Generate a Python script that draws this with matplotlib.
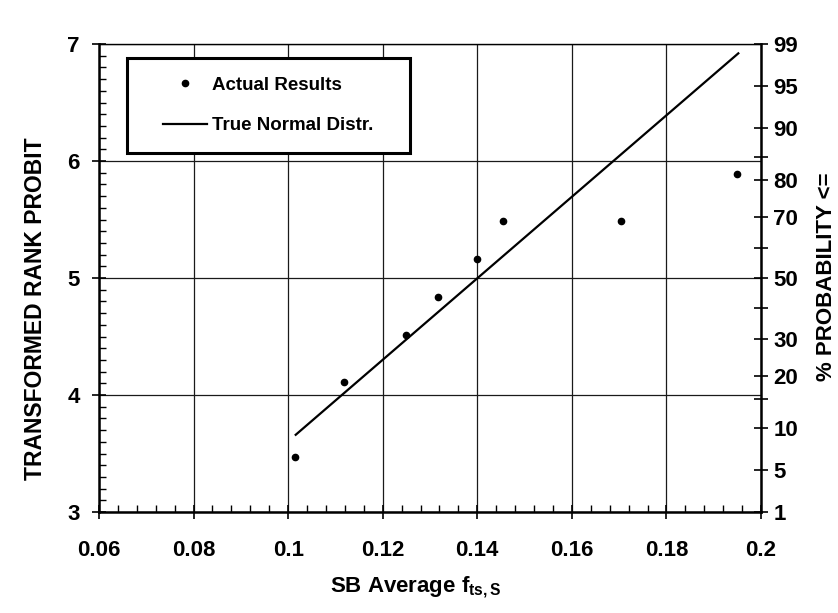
import matplotlib
matplotlib.use("Agg")
import matplotlib.pyplot as plt
from matplotlib.patches import Rectangle
from matplotlib.ticker import MultipleLocator, FuncFormatter
from statistics import NormalDist

plt.rcParams['font.family'] = ['Liberation Sans', 'DejaVu Sans']
plt.rcParams['font.weight'] = 'bold'
plt.rcParams['mathtext.fontset'] = 'custom'
plt.rcParams['mathtext.rm'] = 'Liberation Sans:bold'
plt.rcParams['mathtext.it'] = 'Liberation Sans:bold'
plt.rcParams['mathtext.bf'] = 'Liberation Sans:bold'

# ranked test results (transformed rank probit)
fts_avg = [0.1014, 0.1119, 0.1249, 0.1317, 0.1400, 0.1454, 0.1704, 0.1950]
rank_probit = [3.47, 4.11, 4.51, 4.84, 5.16, 5.49, 5.49, 5.89]

# fitted normal distribution, drawn between its end points
normal_x = [0.1016, 0.1952]
normal_y = [3.66, 6.92]

# right-hand probability scale
prob_ticks = [1, 5, 10, 15, 20, 30, 40, 50, 60, 70, 80, 85, 90, 95, 99]
prob_labels = ['1', '5', '10', '', '20', '30', '', '50', '', '70', '80', '', '90', '95', '99']

fig = plt.figure(figsize=(8.38, 6.13), dpi=100)
ax = fig.add_axes([99 / 838, 1 - 512 / 613, 662 / 838, 468 / 613])

ax.set_xlim(0.06, 0.2)
ax.set_ylim(3, 7)
ax.xaxis.set_major_locator(MultipleLocator(0.02))
ax.xaxis.set_minor_locator(MultipleLocator(0.004))
ax.yaxis.set_major_locator(MultipleLocator(1))
ax.yaxis.set_minor_locator(MultipleLocator(0.1))
ax.xaxis.set_major_formatter(FuncFormatter(lambda v, p: '%g' % round(v, 3)))
ax.yaxis.set_major_formatter(FuncFormatter(lambda v, p: '%g' % v))

ax.grid(True, which='major', color='#1a1a1a', linewidth=0.9, zorder=0)

ax.plot(normal_x, normal_y, color='black', linewidth=1.6, zorder=3,
        label='True Normal Distr.')
ax.plot(fts_avg, rank_probit, linestyle='none', marker='o', markersize=4.5,
        color='black', zorder=4, label='Actual Results')

ax.tick_params(axis='both', which='major', direction='inout', length=10,
               width=1.2, labelsize=16, color='black')
ax.tick_params(axis='both', which='minor', direction='in', length=5, width=1)
ax.tick_params(axis='x', which='major', pad=15)
ax.tick_params(axis='y', which='major', pad=9)

for side in ['left', 'bottom', 'right']:
    ax.spines[side].set_linewidth(1.8)
ax.spines['top'].set_linewidth(1.0)

# probability axis on the right
ax2 = ax.twinx()
ax2.set_ylim(3, 7)
prob_pos = [min(7, max(3, 5 + NormalDist().inv_cdf(p / 100))) for p in prob_ticks]
ax2.set_yticks(prob_pos)
ax2.set_yticklabels(prob_labels)
ax2.tick_params(axis='y', direction='inout', length=10, width=1.2,
                labelsize=16, pad=4)
for side in ['left', 'bottom', 'right', 'top']:
    ax2.spines[side].set_visible(False)

# legend box
box_l, box_b = 28 / 662, (512 - 153) / 468
box_w, box_h = 283 / 662, 95 / 468
ax.add_patch(Rectangle((box_l, box_b), box_w, box_h, transform=ax.transAxes,
                       facecolor='white', edgecolor='black', linewidth=2.2,
                       zorder=5))
handles, labels = ax.get_legend_handles_labels()
leg = ax.legend(handles[::-1], labels[::-1], loc='center',
                bbox_to_anchor=(box_l + box_w / 2, box_b + box_h / 2),
                frameon=False, fontsize=13.5, handlelength=2.3,
                handletextpad=0.3, labelspacing=1.25, borderpad=0)
leg.set_zorder(6)

fig.text(36 / 838, 1 - 309 / 613, 'TRANSFORMED RANK PROBIT', rotation=90,
         ha='center', va='center', fontsize=16.5)
fig.text(826 / 838, 1 - 277 / 613, '% PROBABILITY <=', rotation=90,
         ha='center', va='center', fontsize=16)
fig.text(416 / 838, 1 - 587 / 613, r'SB Average f$_{\rm ts,S}$',
         ha='center', va='center', fontsize=16)

fig.savefig('out.png', dpi=100, facecolor='white')
